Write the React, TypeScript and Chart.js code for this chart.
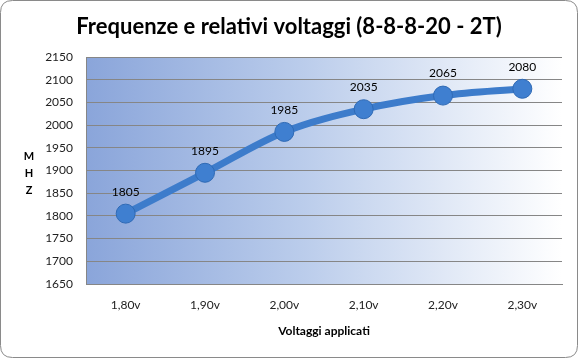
import React, { useEffect, useRef } from "react";
import { Chart, registerables } from "chart.js";

Chart.register(...registerables);

const categories = ["1,80v", "1,90v", "2,00v", "2,10v", "2,20v", "2,30v"];
const frequencies = [1805, 1895, 1985, 2035, 2065, 2080];
const yMin = 1650;
const yMax = 2150;
const yStep = 50;
const titleText = "Frequenze e relativi voltaggi (8-8-8-20 - 2T)";
const yTitleLetters = ["M", "H", "Z"];
const xTitleText = "Voltaggi applicati";

const FONT = "Lato, 'Open Sans', sans-serif";

export default function App() {
  const ref = useRef<HTMLCanvasElement | null>(null);

  useEffect(() => {
    const canvas = ref.current;
    if (!canvas) return;

    const decor = {
      id: "decor",
      beforeDraw(chart: any) {
        const { ctx, chartArea } = chart;
        const W = chart.width;
        const H = chart.height;
        ctx.save();
        ctx.fillStyle = "#ffffff";
        ctx.fillRect(0, 0, W, H);
        const r = 12;
        ctx.beginPath();
        ctx.moveTo(0.5 + r, 0.5);
        ctx.lineTo(W - 0.5 - r, 0.5);
        ctx.quadraticCurveTo(W - 0.5, 0.5, W - 0.5, 0.5 + r);
        ctx.lineTo(W - 0.5, H - 0.5 - r);
        ctx.quadraticCurveTo(W - 0.5, H - 0.5, W - 0.5 - r, H - 0.5);
        ctx.lineTo(0.5 + r, H - 0.5);
        ctx.quadraticCurveTo(0.5, H - 0.5, 0.5, H - 0.5 - r);
        ctx.lineTo(0.5, 0.5 + r);
        ctx.quadraticCurveTo(0.5, 0.5, 0.5 + r, 0.5);
        ctx.closePath();
        ctx.strokeStyle = "#8a8a8a";
        ctx.lineWidth = 1;
        ctx.stroke();
        const g = ctx.createLinearGradient(chartArea.left, 0, chartArea.right, 0);
        g.addColorStop(0, "#8AA5DA");
        g.addColorStop(0.45, "#BACCEB");
        g.addColorStop(1, "#FFFFFF");
        ctx.fillStyle = g;
        ctx.fillRect(chartArea.left, chartArea.top, chartArea.right - chartArea.left, chartArea.bottom - chartArea.top);
        ctx.fillStyle = "#000000";
        ctx.font = `bold 22px ${FONT}`;
        ctx.textAlign = "center";
        ctx.textBaseline = "middle";
        ctx.fillText(titleText, 289, 27);
        ctx.font = `bold 11px ${FONT}`;
        yTitleLetters.forEach((l, i) => ctx.fillText(l, 29, 156 + i * 17));
        ctx.font = `bold 12px ${FONT}`;
        ctx.fillText(xTitleText, (chartArea.left + chartArea.right) / 2, 331);
        ctx.restore();
      },
      afterDatasetsDraw(chart: any) {
        const { ctx } = chart;
        const meta = chart.getDatasetMeta(0);
        ctx.save();
        ctx.fillStyle = "#000000";
        ctx.font = `12px ${FONT}`;
        ctx.textAlign = "center";
        ctx.textBaseline = "middle";
        meta.data.forEach((pt: any, i: number) => {
          ctx.fillText(String(frequencies[i]), pt.x, pt.y - 22);
        });
        ctx.restore();
      },
    };

    const chart = new Chart(canvas, {
      type: "line",
      data: {
        labels: categories,
        datasets: [
          {
            data: frequencies,
            borderColor: "#3D7CCB",
            borderWidth: 7,
            backgroundColor: "#3F7FD0",
            pointBackgroundColor: "#3F7FD0",
            pointBorderColor: "#2F6AB5",
            pointBorderWidth: 1,
            pointRadius: 9.5,
            tension: 0.3,
            cubicInterpolationMode: "monotone",
          },
        ],
      },
      options: {
        animation: false,
        responsive: false,
        events: [],
        layout: { padding: { top: 57, right: 16, left: 0, bottom: 0 } },
        plugins: {
          legend: { display: false },
          tooltip: { enabled: false },
          title: { display: false },
        },
        scales: {
          x: {
            offset: true,
            grid: { display: false, drawTicks: false },
            border: { display: true, color: "#868686" },
            ticks: { color: "#222", font: { family: FONT, size: 12 }, padding: 14, maxRotation: 0 },
            afterFit(scale: any) {
              scale.height = 74;
            },
          },
          y: {
            min: yMin,
            max: yMax,
            grid: { color: "#868686", drawTicks: false, lineWidth: 1 },
            border: { display: true, color: "#868686" },
            ticks: {
              stepSize: yStep,
              color: "#222",
              font: { family: FONT, size: 12 },
              padding: 13,
              callback: (v: any) => String(v),
            },
            afterFit(scale: any) {
              scale.width = 86;
            },
          },
        },
      },
      plugins: [decor],
    });
    return () => chart.destroy();
  }, []);

  return (
    <div style={{ position: "fixed", left: 0, top: 0, width: 578, height: 358 }}>
      <canvas ref={ref} width={578} height={358} style={{ display: "block", width: 578, height: 358 }} />
    </div>
  );
}
